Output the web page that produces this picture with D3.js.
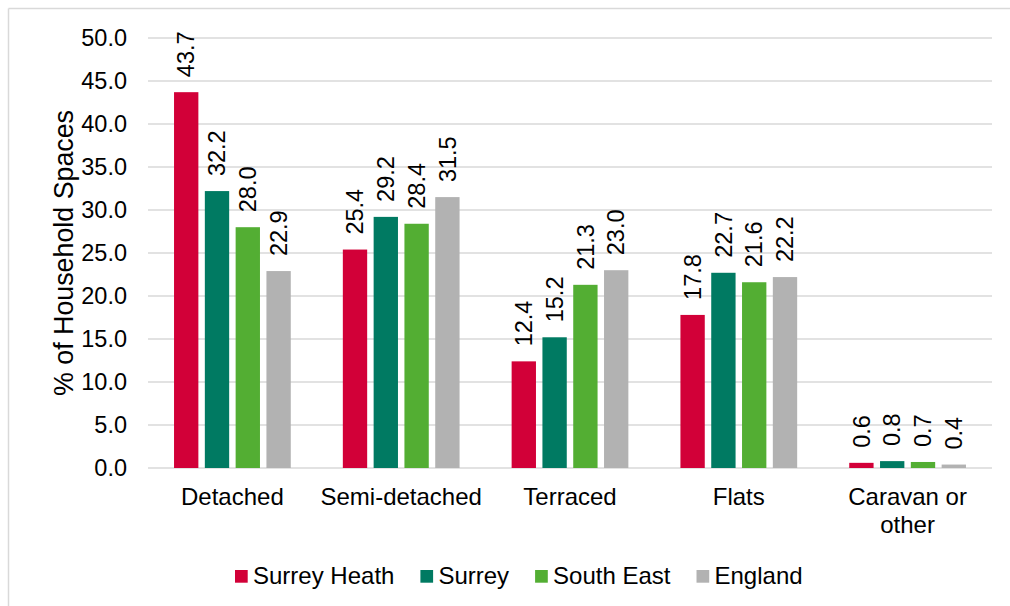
<!DOCTYPE html>
<html>
<head>
<meta charset="utf-8">
<script src="https://cdn.jsdelivr.net/npm/d3@7"></script>
<style>
  html, body { margin: 0; padding: 0; background: #fff; }
  svg { display: block; font-family: "Liberation Sans", Arial, sans-serif; }
</style>
</head>
<body>
<svg id="chart" width="1010" height="606"></svg>
<script>
// Household space types, % of household spaces
const categories = ["Detached", "Semi-detached", "Terraced", "Flats", "Caravan or other"];
const categoryLines = [["Detached"], ["Semi-detached"], ["Terraced"], ["Flats"], ["Caravan or", "other"]];
const seriesNames = ["Surrey Heath", "Surrey", "South East", "England"];
const surreyHeath = [43.7, 25.4, 12.4, 17.8, 0.6];
const surrey      = [32.2, 29.2, 15.2, 22.7, 0.8];
const southEast   = [28.0, 28.4, 21.3, 21.6, 0.7];
const england     = [22.9, 31.5, 23.0, 22.2, 0.4];
const yTicks = [0, 5, 10, 15, 20, 25, 30, 35, 40, 45, 50];
const colors = ["#D20038", "#007A62", "#53AE33", "#B2B2B2"];

const seriesValues = [surreyHeath, surrey, southEast, england];
const rows = categories.map((c, i) => ({
  category: c,
  values: seriesNames.map((s, j) => ({ series: s, value: seriesValues[j][i], color: colors[j] }))
}));

const svg = d3.select("#chart");
const margin = { left: 148, right: 1010 - 992, top: 38, bottom: 606 - 468 };
const plotW = 1010 - margin.left - margin.right;
const plotH = 606 - margin.top - margin.bottom;
const gridColor = "#D9D9D9";
const fontSize = 23.5;
const labelSize = 24;

// outer chart frame (top and left edges)
svg.append("line").attr("x1", 8.5).attr("x2", 1010).attr("y1", 8.5).attr("y2", 8.5)
  .attr("stroke", gridColor).attr("stroke-width", 1.5);
svg.append("line").attr("x1", 8.5).attr("x2", 8.5).attr("y1", 8.5).attr("y2", 606)
  .attr("stroke", gridColor).attr("stroke-width", 1.5);

const g = svg.append("g").attr("transform", `translate(${margin.left},${margin.top})`);

const y = d3.scaleLinear().domain([0, 50]).range([plotH, 0]);
const x0 = d3.scaleBand().domain(categories).range([0, plotW]);
const step = 30.8;
const x1 = d3.scaleBand().domain(seriesNames)
  .range([-2 * step, 2 * step]).paddingInner(0.21).paddingOuter(0.105);

// gridlines
g.append("g").selectAll("line").data(yTicks).join("line")
  .attr("x1", 0).attr("x2", plotW)
  .attr("y1", d => y(d)).attr("y2", d => y(d))
  .attr("stroke", gridColor).attr("stroke-width", 1.5);

// y axis tick labels
const yAxis = d3.axisLeft(y).tickValues(yTicks).tickFormat(d3.format(".1f")).tickSize(0).tickPadding(21);
const ya = g.append("g").call(yAxis);
ya.select(".domain").remove();
ya.selectAll("text").attr("font-size", fontSize).attr("fill", "#000")
  .attr("font-family", "Liberation Sans, Arial, sans-serif");

// y axis title
svg.append("text")
  .attr("transform", `translate(73,${margin.top + plotH / 2}) rotate(-90)`)
  .attr("text-anchor", "middle")
  .attr("font-size", 26.8)
  .attr("fill", "#000")
  .text("% of Household Spaces");

// bars and value labels
const groups = g.selectAll("g.cat").data(rows).join("g")
  .attr("class", "cat")
  .attr("transform", d => `translate(${x0(d.category) + x0.bandwidth() / 2},0)`);

groups.selectAll("rect").data(d => d.values).join("rect")
  .attr("x", d => x1(d.series))
  .attr("width", x1.bandwidth())
  .attr("y", d => y(d.value))
  .attr("height", d => plotH - y(d.value))
  .attr("fill", d => d.color);

groups.selectAll("text.val").data(d => d.values).join("text")
  .attr("class", "val")
  .attr("transform", d => `translate(${x1(d.series) + x1.bandwidth() / 2},${y(d.value) - 15}) rotate(-90)`)
  .attr("dy", "0.35em")
  .attr("font-size", fontSize)
  .attr("fill", "#000")
  .text(d => d.value.toFixed(1));

// category labels
const catLabels = g.append("g").selectAll("text").data(categories).join("text")
  .attr("x", d => x0(d) + x0.bandwidth() / 2)
  .attr("y", plotH + 37)
  .attr("text-anchor", "middle")
  .attr("font-size", labelSize)
  .attr("fill", "#000");
catLabels.selectAll("tspan").data((d, i) => categoryLines[i]).join("tspan")
  .attr("x", function () { return d3.select(this.parentNode).attr("x"); })
  .attr("dy", (d, i) => i === 0 ? 0 : 27.5)
  .text(d => d);

// legend
const legend = svg.append("g").attr("transform", "translate(0,576)");
let lx = 0;
const items = [];
seriesNames.forEach((s, i) => {
  const it = legend.append("g");
  it.append("rect").attr("x", 0).attr("y", -6).attr("width", 12.7).attr("height", 12.7).attr("fill", colors[i]);
  const t = it.append("text").attr("x", 18).attr("y", 7.5).attr("font-size", labelSize).attr("fill", "#000").text(s);
  const w = 18 + t.node().getComputedTextLength();
  items.push({ it, x: lx });
  lx += w + 26;
});
const startX = 235;
items.forEach(d => d.it.attr("transform", `translate(${startX + d.x},0)`));
</script>
</body>
</html>
